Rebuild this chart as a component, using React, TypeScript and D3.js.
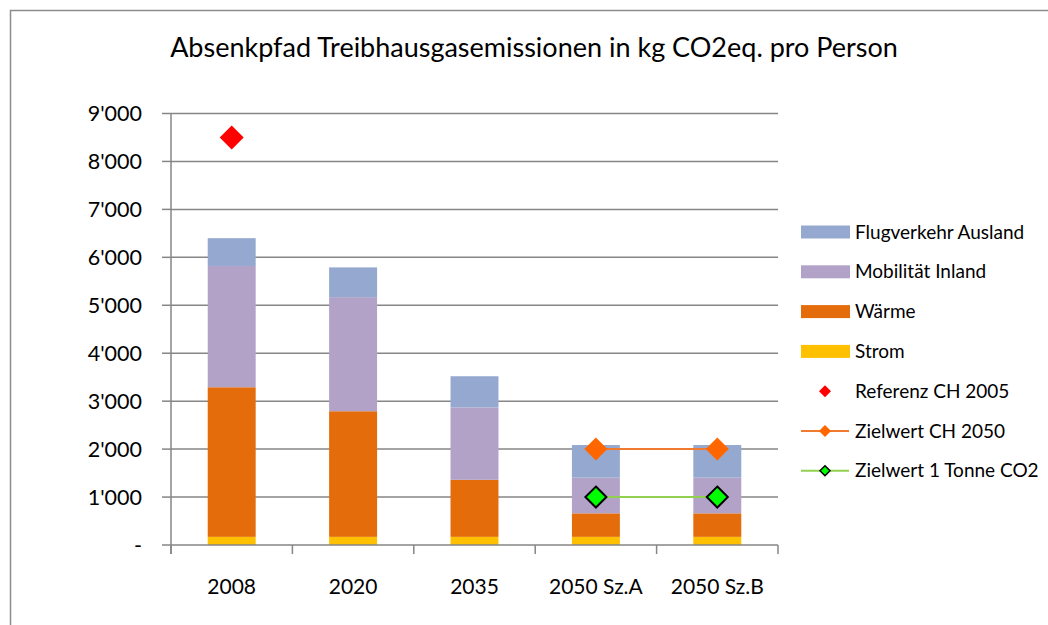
import React from "react";
import * as d3 from "d3";

const categories = ["2008", "2020", "2035", "2050 Sz.A", "2050 Sz.B"];
const strom = [170, 170, 170, 170, 170];
const waerme = [3120, 2620, 1190, 490, 490];
const mobilitaet = [2530, 2380, 1510, 745, 745];
const flugverkehr = [580, 620, 650, 680, 680];
const referenz = [{ cat: "2008", value: 8500 }];
const zielCH = [{ cat: "2050 Sz.A", value: 2000 }, { cat: "2050 Sz.B", value: 2000 }];
const zielTonne = [{ cat: "2050 Sz.A", value: 1000 }, { cat: "2050 Sz.B", value: 1000 }];
const yTicks = [0, 1000, 2000, 3000, 4000, 5000, 6000, 7000, 8000, 9000];

const seriesNames = ["Strom", "Wärme", "Mobilität Inland", "Flugverkehr Ausland"];
const seriesColors = ["#FFC000", "#E46C0A", "#B2A2C7", "#95A9D0"];

const FONT = "Lato, 'Open Sans', sans-serif";

export default function App() {
  const W = 1048, H = 625;
  const left = 171, right = 778, top = 113.5, bottom = 545;
  const x = d3.scaleBand<string>().domain(categories).range([left, right]).paddingInner(0.605).paddingOuter(0.3025);
  const y = d3.scaleLinear().domain([0, 9000]).range([bottom, top]);
  const xc = (c: string) => (x(c) as number) + x.bandwidth() / 2;

  const rows = categories.map((c, i) => ({ cat: c, Strom: strom[i], "Wärme": waerme[i], "Mobilität Inland": mobilitaet[i], "Flugverkehr Ausland": flugverkehr[i] }));
  const stack = d3.stack<any>().keys(seriesNames)(rows);

  const step = (right - left) / categories.length;
  const fmt = (v: number) => (v === 0 ? "-" : d3.format(",")(v).replace(/,/g, "'"));
  const diamond = (cx: number, cy: number, r: number) => `M${cx},${cy - r}L${cx + r},${cy}L${cx},${cy + r}L${cx - r},${cy}Z`;
  const line = d3.line<{ cat: string; value: number }>().x(d => xc(d.cat)).y(d => y(d.value));

  const legendItems = ["Flugverkehr Ausland", "Mobilität Inland", "Wärme", "Strom", "Referenz CH 2005", "Zielwert CH 2050", "Zielwert 1 Tonne CO2"];
  const legY0 = 232, legStep = 39.8;

  return (
    <svg width={W} height={H} style={{ position: "absolute", left: 0, top: 0 }}>
      <rect x={0} y={0} width={W} height={H} fill="#fff" />
      <rect x={10.5} y={10.5} width={W + 10} height={H + 10} fill="none" stroke="#8c8c8c" strokeWidth={1.5} />
      <text x={534} y={57} textAnchor="middle" fontFamily={FONT} fontSize={27} fill="#000">
        Absenkpfad Treibhausgasemissionen in kg CO2eq. pro Person
      </text>
      {yTicks.map(t => (
        <g key={t}>
          {t > 0 && <line x1={left} x2={right} y1={y(t)} y2={y(t)} stroke="#868686" strokeWidth={1.5} />}
          <line x1={162} x2={left} y1={y(t)} y2={y(t)} stroke="#868686" strokeWidth={1.5} />
          <text x={142} y={y(t)} dy="0.35em" textAnchor="end" fontFamily={FONT} fontSize={21.5} fill="#000">{fmt(t)}</text>
        </g>
      ))}
      {stack.map((s, si) => (
        <g key={s.key}>
          {s.map((d, i) => (
            <rect key={i} x={x(categories[i])} width={x.bandwidth()} y={y(d[1])} height={y(d[0]) - y(d[1])} fill={seriesColors[si]} />
          ))}
        </g>
      ))}
      <line x1={left} x2={left} y1={top} y2={bottom + 9} stroke="#868686" strokeWidth={1.5} />
      <line x1={left} x2={right} y1={bottom} y2={bottom} stroke="#868686" strokeWidth={1.5} />
      {d3.range(categories.length + 1).map(i => (
        <line key={i} x1={left + i * step} x2={left + i * step} y1={bottom} y2={bottom + 9} stroke="#868686" strokeWidth={1.5} />
      ))}
      {categories.map(c => (
        <text key={c} x={xc(c)} y={587} dy="0.35em" textAnchor="middle" fontFamily={FONT} fontSize={21} fill="#000">{c}</text>
      ))}
      <path d={line(zielCH) || ""} fill="none" stroke="#F07B2F" strokeWidth={2} />
      <path d={line(zielTonne) || ""} fill="none" stroke="#92D050" strokeWidth={2} />
      {referenz.map((d, i) => <path key={i} d={diamond(xc(d.cat), y(d.value), 12)} fill="#FF0000" />)}
      {zielCH.map((d, i) => <path key={i} d={diamond(xc(d.cat), y(d.value), 11.5)} fill="#FF6600" />)}
      {zielTonne.map((d, i) => <path key={i} d={diamond(xc(d.cat), y(d.value), 10.5)} fill="#00FF00" stroke="#000" strokeWidth={2} />)}
      {legendItems.map((name, i) => {
        const cy = legY0 + i * legStep;
        let sym: React.ReactNode = null;
        if (i < 4) {
          const ci = seriesNames.indexOf(name);
          sym = <rect x={801} y={cy - 6.5} width={49} height={13} fill={seriesColors[ci]} />;
        } else if (i === 4) {
          sym = <path d={diamond(825, cy, 6)} fill="#FF0000" />;
        } else if (i === 5) {
          sym = <g><line x1={801} x2={849} y1={cy} y2={cy} stroke="#F07B2F" strokeWidth={2} /><path d={diamond(825, cy, 6)} fill="#FF6600" /></g>;
        } else {
          sym = <g><line x1={801} x2={849} y1={cy} y2={cy} stroke="#92D050" strokeWidth={2} /><path d={diamond(825, cy, 5)} fill="#00FF00" stroke="#000" strokeWidth={1.5} /></g>;
        }
        return (
          <g key={name}>
            {sym}
            <text x={855} y={cy} dy="0.35em" fontFamily={FONT} fontSize={19} fill="#000">{name}</text>
          </g>
        );
      })}
    </svg>
  );
}
